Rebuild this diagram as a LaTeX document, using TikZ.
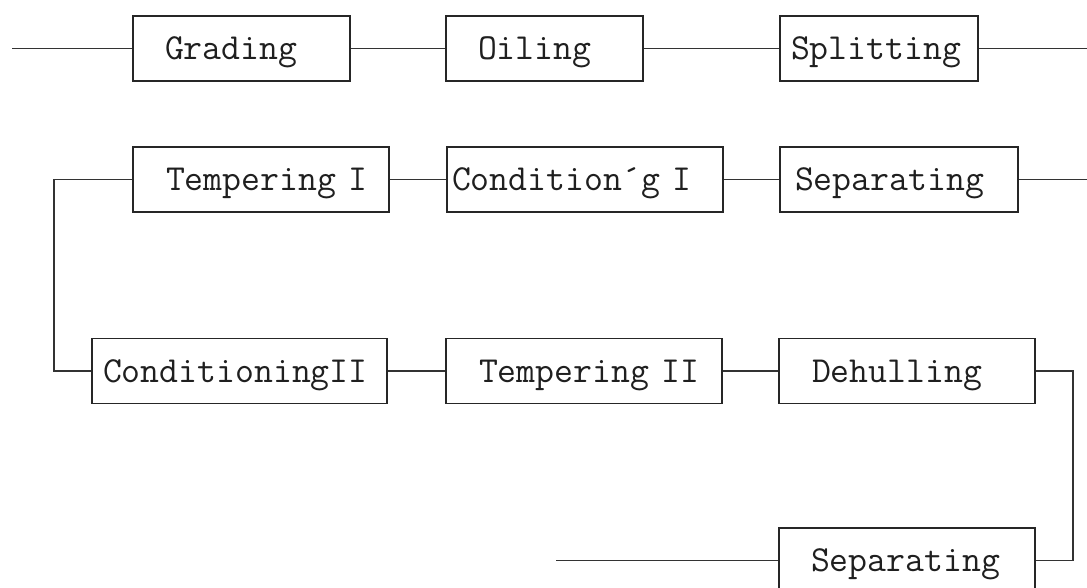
\documentclass[tikz,border=0pt]{standalone}
\usepackage{fontspec}
\begin{document}
\begin{tikzpicture}[x=1pt,y=-1pt,
  proc/.style={draw=black!85, line width=1.6pt, rectangle, minimum height=65pt,
    inner ysep=0pt, align=left, text height=22.4pt, text depth=0pt,
    font=\fontsize{36.7}{40}\selectfont\ttfamily, text=black!88},
  link/.style={draw=black!80, line width=1.3pt}]
\useasboundingbox (0,0) rectangle (1087,588);

% row 1
\node[proc, inner xsep=32pt, text width=153pt] (grading)  at (241.5,48.5) {Grading};
\node[proc, inner xsep=32pt, text width=133pt] (oiling)   at (544.5,48.5) {Oiling};
\node[proc, inner xsep=11pt, text width=176pt] (splitting) at (879,48.5) {Splitting};
\coordinate (in1)  at (12,48.5);
\coordinate (out1) at (1087,48.5);

% row 2
\node[proc, inner xsep=33pt, text width=190pt] (temp1) at (261,179.5) {\mbox{Tempering I}};
\node[proc, inner xsep=5pt,  text width=266pt] (cond1) at (585,179.5) {\mbox{Condition´g I}};
\node[proc, inner xsep=15pt, text width=208pt] (sep1)  at (899,179.5) {Separating};
\coordinate (out2)  at (1087,179.5);
\coordinate (bendL) at (54,179.5);

% row 3
\node[proc, inner xsep=11pt, text width=273pt] (cond2)  at (239.5,371) {ConditioningII};
\node[proc, inner xsep=33pt, text width=210pt] (temp2)  at (584,371) {\mbox{Tempering II}};
\node[proc, inner xsep=33pt, text width=190pt] (dehull) at (907,371) {Dehulling};
\coordinate (bendR) at (1073,371);

% row 4
\node[proc, inner xsep=32pt, text width=192pt] (sep2) at (907,560.5) {Separating};
\coordinate (in4) at (556,560.5);

% connectors
\draw[link] (in1) -- (grading.west);
\draw[link] (grading.east) -- (oiling.west);
\draw[link] (oiling.east) -- (splitting.west);
\draw[link] (splitting.east) -- (out1);

\draw[link] (temp1.east) -- (cond1.west);
\draw[link] (cond1.east) -- (sep1.west);
\draw[link] (sep1.east) -- (out2);
\draw[link] (temp1.west) -- (bendL) |- (cond2.west);

\draw[link] (cond2.east) -- (temp2.west);
\draw[link] (temp2.east) -- (dehull.west);
\draw[link] (dehull.east) -- (bendR) |- (sep2.east);

\draw[link] (sep2.west) -- (in4);
\end{tikzpicture}
\end{document}
